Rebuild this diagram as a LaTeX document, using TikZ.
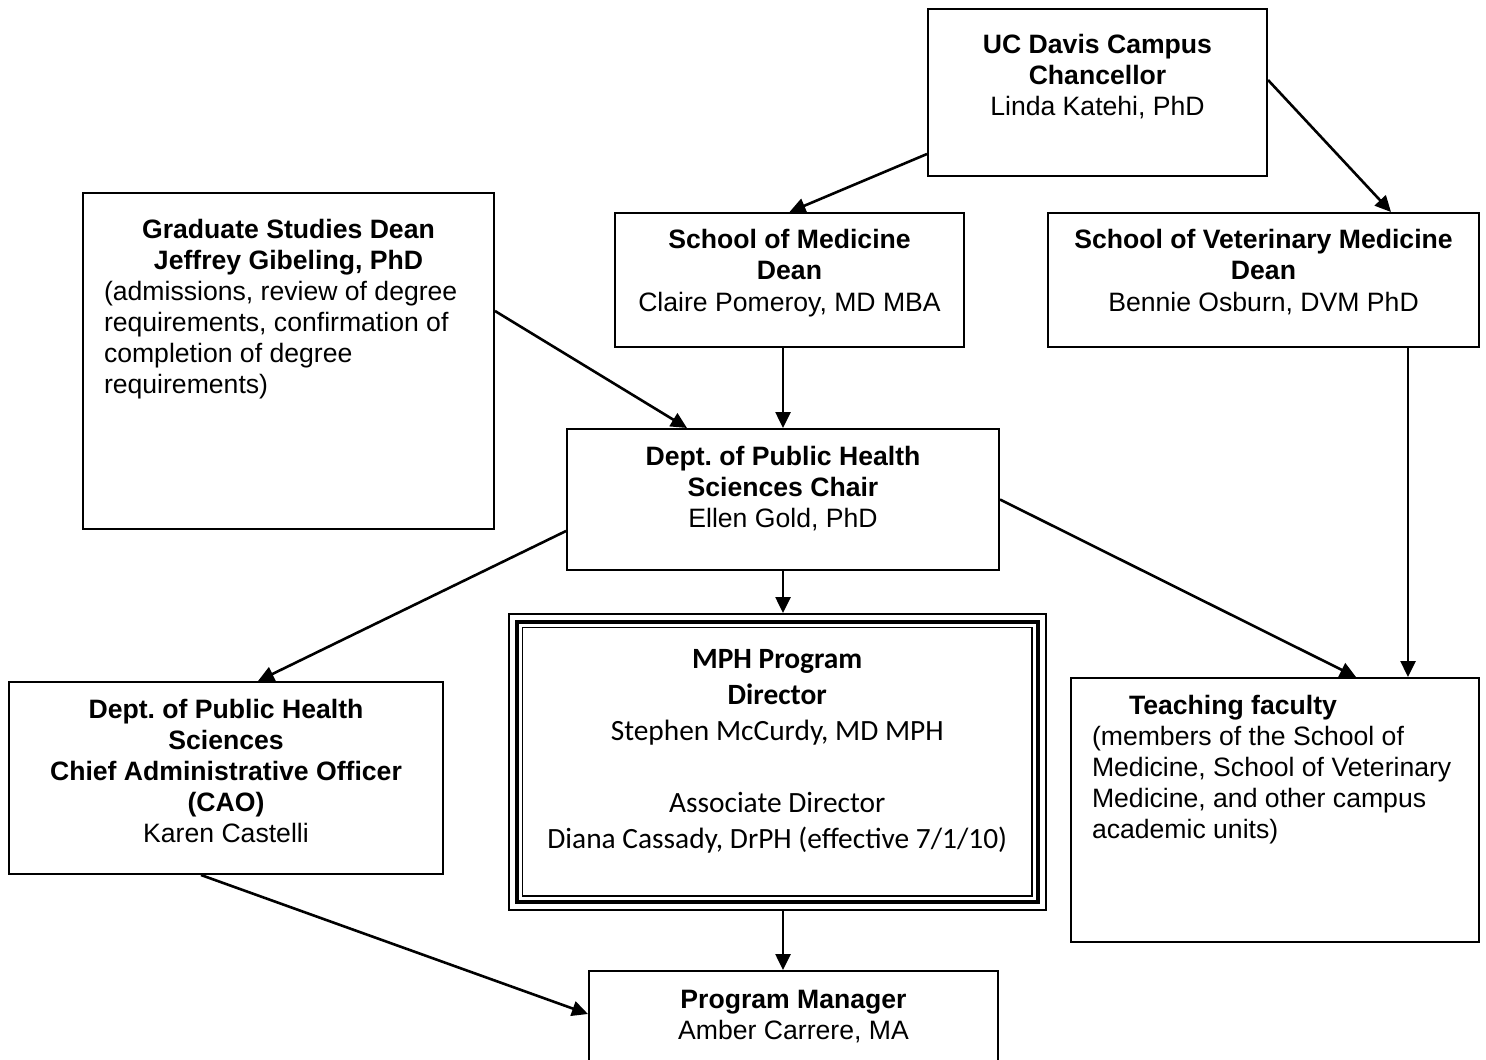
\documentclass[tikz,border=0pt]{standalone}
\usepackage{fontspec}
\setmainfont{Liberation Sans}
\newfontfamily\calibri{Carlito}
\usepackage{tikz}
\usetikzlibrary{arrows.meta}
\newcommand{\orgfont}{\fontsize{13.3pt}{15.5pt}\selectfont}
\newcommand{\mphfont}{\calibri\fontsize{14.7pt}{18pt}\selectfont}
% width, height, first baseline, text
\newcommand{\boxtext}[4]{\parbox[c][#2][t]{#1}{\vspace*{\dimexpr#3-\ht\strutbox\relax}\strut#4}}
\tikzstyle{boxy} = [rectangle, draw=black, line width=1pt, inner sep=0pt, anchor=north west, font=\orgfont]
\tikzstyle{boxytriple} = [boxy, line width=0.75pt, font=\mphfont]
\tikzstyle{arrow} = [line width=1.3pt,-{Triangle[length=8pt,width=7.5pt]}]
\begin{document}
\begin{tikzpicture}[x=0.5pt,y=-0.5pt]
        \useasboundingbox (0,0) rectangle (1486,1059);
        \node (chan) [boxy] at (927,8) {\boxtext{169.5pt}{83.5pt}{22.5pt}{\centering\textbf{UC Davis Campus}\\\textbf{Chancellor}\\Linda Katehi, PhD}};
        \node (som) [boxy] at (614,212) {\boxtext{174.5pt}{67pt}{18pt}{\centering\textbf{School of Medicine}\\\textbf{Dean}\\Claire Pomeroy, MD MBA}};
        \node (vet) [boxy] at (1047,212) {\boxtext{215.5pt}{67pt}{18pt}{\centering\textbf{School of Veterinary Medicine}\\\textbf{Dean}\\Bennie Osburn, DVM PhD}};
        \node (grad) [boxy] at (82,192) {\boxtext{205.5pt}{168pt}{22.75pt}{{\centering\textbf{Graduate Studies Dean}\\\textbf{Jeffrey Gibeling, PhD}\par}\raggedright\leftskip=10.5pt\relax(admissions, review of degree\\requirements, confirmation of\\completion of degree\\requirements)}};
        \node (chair) [boxy] at (566,428) {\boxtext{216pt}{70.5pt}{18pt}{\centering\textbf{Dept.\ of Public Health}\\\textbf{Sciences Chair}\\Ellen Gold, PhD}};
        \node (mph) [boxytriple] at (508,613) {\boxtext{268.5pt}{148pt}{27.25pt}{\centering\textbf{MPH Program}\\\textbf{Director}\\Stephen McCurdy, MD MPH\\[18pt]Associate Director\\Diana Cassady, DrPH (effective 7/1/10)}};
        \node (cao) [boxy] at (8,681) {\boxtext{217pt}{96pt}{18.25pt}{\centering\textbf{Dept.\ of Public Health}\\\textbf{Sciences}\\\textbf{Chief Administrative Officer}\\\textbf{(CAO)}\\Karen Castelli}};
        \node (teach) [boxy] at (1070,677) {\boxtext{204pt}{132pt}{18pt}{\raggedright\leftskip=10.5pt\relax\hspace*{18.5pt}\textbf{Teaching faculty}\\(members of the School of\\Medicine, School of Veterinary\\Medicine, and other campus\\academic units)}};
        \node (pm) [boxy] at (588,970) {\boxtext{204.5pt}{50pt}{18.5pt}{\centering\textbf{Program Manager}\\Amber Carrere, MA}};
        %
        \draw [line width=2pt] ([shift={(4.5pt,-4.5pt)}]mph.north west) rectangle ([shift={(-4.5pt,4.5pt)}]mph.south east);
        \draw [line width=0.75pt] ([shift={(7.2pt,-7.2pt)}]mph.north west) rectangle ([shift={(-7.2pt,7.2pt)}]mph.south east);
        %
        \draw [arrow] ([yshift=-30.75pt]chan.west) -- (som.north);
        \draw [arrow] ([yshift=6.25pt]chan.east) -- ([xshift=63.75pt]vet.north);
        \draw [arrow] ([yshift=25pt]grad.east) -- ([xshift=-48pt]chair.north);
        \draw [arrow] (chair.north |- som.south) -- (chair.north);
        \draw [arrow] ([xshift=72.25pt]vet.south) -- ([xshift=66.5pt]teach.north);
        \draw [arrow] ([yshift=-15.75pt]chair.west) -- ([xshift=16pt]cao.north);
        \draw [arrow] (chair.south) -- (chair.south |- mph.north);
        \draw [arrow] (chair.east) -- ([xshift=40.5pt]teach.north);
        \draw [arrow] (chair.south |- mph.south) -- (chair.south |- pm.north);
        \draw [arrow] ([xshift=-12.5pt]cao.south) -- ([yshift=3.5pt]pm.west);
\end{tikzpicture}
\end{document}
